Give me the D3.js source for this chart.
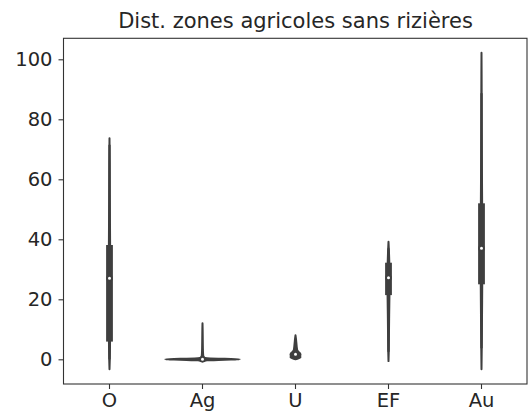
<!DOCTYPE html>
<html>
<head>
<meta charset="utf-8">
<script src="https://cdn.jsdelivr.net/npm/d3@7"></script>
<style>
  html, body { margin: 0; padding: 0; background: #ffffff; }
  svg { display: block; font-family: "DejaVu Sans", sans-serif; }
</style>
</head>
<body>
<svg id="chart" width="528" height="412"></svg>
<script>
// Categories and y ticks
const categories = ["O", "Ag", "U", "EF", "Au"];
const yTicks = [0, 20, 40, 60, 80, 100];

// Kernel density profiles: sample values and relative density (1 = widest violin)
const oValues  = [-3.3, 0, 5, 10, 20, 27, 35, 45, 55, 65, 73.7];
const oDensity = [0, 0.008, 0.014, 0.018, 0.020, 0.020, 0.018, 0.013, 0.009, 0.006, 0];
const agValues  = [-0.7, -0.35, -0.15, 0, 0.15, 0.35, 0.7, 1.2, 2, 4, 7, 10, 12];
const agDensity = [0, 0.12, 0.6, 1, 0.6, 0.12, 0.03, 0.02, 0.015, 0.01, 0.007, 0.004, 0];
const uValues  = [0, 0.3, 0.7, 1.0, 1.5, 2.0, 2.5, 3, 4, 5, 6, 7, 8];
const uDensity = [0, 0.08, 0.134, 0.12, 0.134, 0.12, 0.08, 0.048, 0.035, 0.027, 0.019, 0.011, 0];
const efValues  = [-0.6, 3, 8, 15, 22, 27, 32, 36, 39.2];
const efDensity = [0, 0.008, 0.012, 0.018, 0.026, 0.028, 0.022, 0.012, 0];
const auValues  = [-3.3, 5, 15, 25, 37, 50, 62, 75, 88, 95, 102.2];
const auDensity = [0, 0.008, 0.014, 0.020, 0.022, 0.018, 0.012, 0.008, 0.005, 0.003, 0];

// Inner box statistics per category
const q1s      = [5.9, 0, 0.9, 21.4, 25];
const medians  = [27.0, 0, 1.7, 27.2, 37];
const q3s      = [38.1, 0, 2.3, 32.2, 52];
const whiskLo  = [0, 0, 0, 2.5, 3.7];
const whiskHi  = [71.5, 0, 5.5, 37, 88.7];

const profiles = [
  [oValues, oDensity],
  [agValues, agDensity],
  [uValues, uDensity],
  [efValues, efDensity],
  [auValues, auDensity]
];
const gray = "#3f3f3f";

const plotLeft = 63, plotRight = 528, plotTop = 38.3, plotBottom = 384;

const svg = d3.select("#chart");

const x = d3.scaleBand().domain(categories).range([plotLeft, plotRight]).padding(0);
const y = d3.scaleLinear().domain([-8.23, 107]).range([plotBottom, plotTop]);
const halfWidth = d3.scaleLinear().domain([0, 1]).range([0, x.bandwidth() * 0.4]);

// Violin bodies with inner boxes
categories.forEach((cat, i) => {
  const cx = x(cat) + x.bandwidth() / 2;
  const [vals, dens] = profiles[i];
  const pts = vals.map((v, j) => ({ v, d: dens[j] }));
  const area = d3.area()
    .y(p => y(p.v))
    .x0(p => cx - halfWidth(p.d))
    .x1(p => cx + halfWidth(p.d))
    .curve(d3.curveMonotoneY);
  svg.append("path")
    .datum(pts)
    .attr("d", area)
    .attr("fill", gray)
    .attr("stroke", gray)
    .attr("stroke-width", 2)
    .attr("stroke-linejoin", "round");

  // whiskers
  svg.append("line")
    .attr("x1", cx).attr("x2", cx)
    .attr("y1", y(whiskLo[i])).attr("y2", y(whiskHi[i]))
    .attr("stroke", gray).attr("stroke-width", 2.2);
  // box
  svg.append("line")
    .attr("x1", cx).attr("x2", cx)
    .attr("y1", y(q1s[i])).attr("y2", y(q3s[i]))
    .attr("stroke", gray).attr("stroke-width", 6.8);
  // median
  svg.append("circle")
    .attr("cx", cx).attr("cy", y(medians[i]))
    .attr("r", 2.4)
    .attr("fill", "#ffffff")
    .attr("stroke", gray)
    .attr("stroke-width", 1.8);
});

// Frame
svg.append("rect")
  .attr("x", plotLeft + 0.5).attr("y", plotTop)
  .attr("width", plotRight - plotLeft - 1.5).attr("height", plotBottom - plotTop)
  .attr("fill", "none")
  .attr("stroke", "#333333")
  .attr("stroke-width", 1.1);

// Y axis
const yAxis = svg.append("g")
  .attr("transform", `translate(${plotLeft + 0.5},0)`)
  .call(d3.axisLeft(y).tickValues(yTicks).tickSize(5).tickPadding(6).tickFormat(d3.format("d")));
yAxis.select(".domain").remove();
yAxis.selectAll(".tick line").attr("stroke", "#333333").attr("stroke-width", 1.1);
yAxis.selectAll(".tick text")
  .attr("fill", "#262626")
  .style("font-size", "19.5px")
  .style("font-family", "DejaVu Sans, sans-serif");

// X axis
const xAxis = svg.append("g")
  .attr("transform", `translate(0,${plotBottom})`)
  .call(d3.axisBottom(x).tickSize(5).tickPadding(4.5));
xAxis.select(".domain").remove();
xAxis.selectAll(".tick line").attr("stroke", "#333333").attr("stroke-width", 1.1);
xAxis.selectAll(".tick text")
  .attr("fill", "#262626")
  .style("font-size", "19.5px")
  .style("font-family", "DejaVu Sans, sans-serif");

// Title
svg.append("text")
  .attr("x", (plotLeft + plotRight) / 2)
  .attr("y", 28)
  .attr("text-anchor", "middle")
  .attr("fill", "#262626")
  .style("font-size", "21px")
  .text("Dist. zones agricoles sans rizières");
</script>
</body>
</html>
